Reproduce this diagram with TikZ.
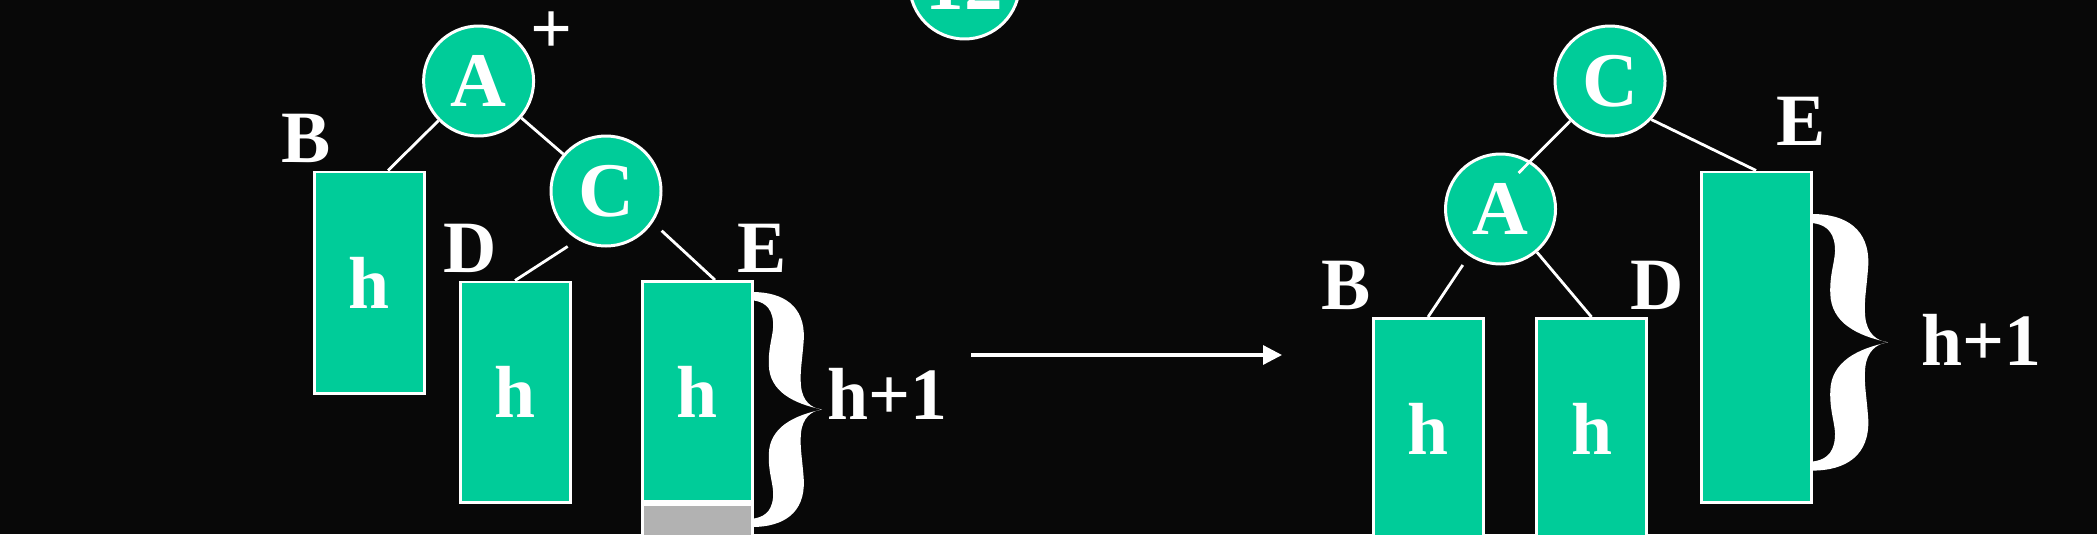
\documentclass[tikz,border=0pt]{standalone}
\usepackage{fontspec}
\setmainfont{Liberation Serif}
\usepackage{tikz}
\usetikzlibrary{arrows.meta,positioning}
\definecolor{slidebg}{HTML}{080808}
\definecolor{avlgreen}{HTML}{00CC99}
\definecolor{growgray}{HTML}{B2B2B2}

\begin{document}
\begin{tikzpicture}[>={Triangle[length=0.19cm,width=0.19cm]},line width=0.85pt,
  font=\fontsize{21pt}{25pt}\selectfont\bfseries,
  vtx/.style={circle,draw=white,fill=avlgreen,text=white,minimum size=1.1cm,inner sep=0pt,
    font=\fontsize{22pt}{26pt}\selectfont\bfseries},
  sub/.style={rectangle,draw=white,fill=avlgreen,text=white,minimum width=1.1cm,minimum height=2.2cm,inner sep=0pt},
  lbl/.style={text=white,inner sep=0pt},
  edge/.style={white,line width=0.8pt},
  curly/.pic={\fill[white] (0,0) .. controls (0.45,0) and (0.76,-0.12) .. (0.74,-0.40)
      .. controls (0.72,-0.58) and (0.68,-0.68) .. (0.70,-0.80)
      .. controls (0.72,-0.93) and (0.85,-0.99) .. (1,-1)
      .. controls (0.85,-1.01) and (0.72,-1.07) .. (0.70,-1.20)
      .. controls (0.68,-1.32) and (0.72,-1.42) .. (0.74,-1.60)
      .. controls (0.76,-1.88) and (0.45,-2) .. (0,-2) -- (0,-1.93)
      .. controls (0.15,-1.92) and (0.28,-1.88) .. (0.30,-1.75)
      .. controls (0.32,-1.65) and (0.23,-1.55) .. (0.24,-1.38)
      .. controls (0.25,-1.15) and (0.6,-1.05) .. (1,-1)
      .. controls (0.6,-0.95) and (0.25,-0.85) .. (0.24,-0.62)
      .. controls (0.23,-0.45) and (0.32,-0.35) .. (0.30,-0.25)
      .. controls (0.28,-0.12) and (0.15,-0.08) .. (0,-0.07) -- cycle;}]
\useasboundingbox (0,0) rectangle (20.97,-5.34);
\fill[slidebg] (0,0) rectangle (20.97,-5.34);
\clip (0,0) rectangle (20.97,-5.34);
% before the rotation
\node[vtx] (A) at (4.786,-0.81) {A};
\node[vtx] (C) at (6.06,-1.91) {C};
\node[lbl] (plus) at (5.52,-0.33) {+};
\node[sub,minimum height=2.21cm] (Bbox) at (3.695,-2.825) {h};
\node[sub] (Dbox) at (5.15,-3.92) {h};
\node[sub] (Ebox) at (6.97,-3.915) {h};
\node[sub,fill=growgray,minimum height=1.1cm,below=0pt of Ebox] (Egrow) {};
\node[lbl] (lblB) at (3.06,-1.38) {B};
\node[lbl] (lblD) at (4.70,-2.48) {D};
\node[lbl] (lblE) at (7.62,-2.48) {E};
\pic[xscale=0.70,yscale=1.175] at (7.52,-2.92) {curly};
\node[lbl] (hpl) at (8.87,-3.94) {h+1};
\draw[edge] (A) -- ([xshift=0.185cm]Bbox.north);
\draw[edge] (A) -- (C);
\draw[edge,shorten <=0.12cm] (C.240) -- (Dbox.north);
\draw[edge,shorten <=0.12cm] (C.-34) -- ([xshift=0.18cm]Ebox.north);
\node[vtx] (top) at (9.645,0.16) {12};
\coordinate (arrS) at (9.71,-3.55);
\coordinate (arrE) at (12.82,-3.55);
\draw[->,white,line width=0.9pt] (arrS) -- (arrE);
% after the rotation
\node[vtx] (C2) at (16.10,-0.81) {C};
\node[vtx] (A2) at (15.005,-2.09) {A};
\node[sub] (B2box) at (14.28,-4.285) {h};
\node[sub] (D2box) at (15.915,-4.285) {h};
\node[sub,minimum height=3.3cm] (E2box) at (17.56,-3.37) {};
\node[lbl] (lblB2) at (13.46,-2.85) {B};
\node[lbl] (lblD2) at (16.57,-2.85) {D};
\node[lbl] (lblE2) at (18.01,-1.21) {E};
\pic[xscale=0.76,yscale=1.283] at (18.12,-2.14) {curly};
\node[lbl] (hpr) at (19.81,-3.40) {h+1};
\draw[edge] (C2) -- ([shift={(0.18,0.36)}]A2.center);
\draw[edge] (C2.-43) -- (E2box.north);
\draw[edge,shorten <=0.11cm] (A2.236) -- (B2box.north);
\draw[edge] (A2) -- (D2box.north);
\end{tikzpicture}
\end{document}
